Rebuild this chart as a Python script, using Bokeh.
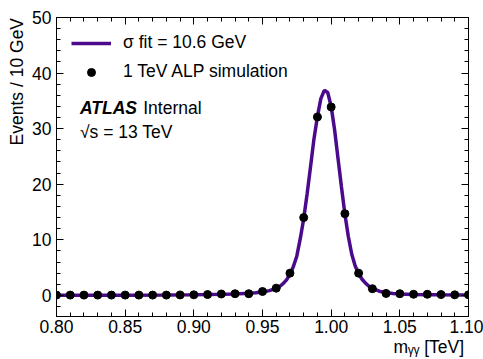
import math
from bokeh.plotting import figure
from bokeh.models import (Range1d, LinearAxis, SingleIntervalTicker, NumeralTickFormatter,
                          CustomJSTickFormatter, Label, Legend, LegendItem)
from bokeh.embed import file_html
from bokeh.resources import INLINE

# ---------------- data ----------------
mass_tev = [0.80, 0.81, 0.82, 0.83, 0.84, 0.85, 0.86, 0.87, 0.88, 0.89,
            0.90, 0.91, 0.92, 0.93, 0.94, 0.95, 0.96, 0.97, 0.98, 0.99,
            1.00, 1.01, 1.02, 1.03, 1.04, 1.05, 1.06, 1.07, 1.08, 1.09, 1.10]
events = [0.05, 0.05, 0.05, 0.05, 0.05, 0.05, 0.05, 0.05, 0.05, 0.08,
          0.10, 0.15, 0.25, 0.30, 0.30, 0.70, 1.30, 4.00, 14.0, 32.1,
          33.9, 14.7, 4.00, 1.20, 0.35, 0.30, 0.20, 0.20, 0.15, 0.10, 0.10]

fit_mass_tev = [0.80, 0.85, 0.88, 0.90, 0.91, 0.92, 0.93, 0.94, 0.945, 0.95,
                0.955, 0.96, 0.9625, 0.965, 0.9675, 0.97, 0.9725, 0.975, 0.9775, 0.98,
                0.9825, 0.985, 0.9875, 0.99, 0.9925, 0.995, 0.9975, 1.00, 1.0025, 1.005,
                1.0075, 1.01, 1.0125, 1.015, 1.0175, 1.02, 1.0225, 1.025, 1.0275, 1.03,
                1.035, 1.04, 1.045, 1.05, 1.06, 1.07, 1.08, 1.09, 1.10]
fit_events = [0.02, 0.04, 0.07, 0.10, 0.14, 0.20, 0.27, 0.38, 0.47, 0.60,
              0.85, 1.25, 1.60, 2.10, 2.80, 3.80, 5.20, 7.10, 10.2, 13.8,
              18.3, 23.2, 28.2, 32.2, 35.4, 36.9, 36.5, 34.0, 29.8, 24.6,
              19.5, 14.6, 10.6, 7.40, 5.30, 3.90, 2.90, 2.20, 1.65, 1.25,
              0.75, 0.50, 0.35, 0.27, 0.18, 0.13, 0.10, 0.08, 0.06]

legend_labels = ["\u03c3 fit = 10.6 GeV", "1 TeV ALP simulation"]
x_title = "m\u1d67\u1d67 [TeV]"
y_title = "Events / 10 GeV"
atlas_texts = ["ATLAS", "Internal", "\u221as = 13 TeV"]

# ---------------- styling / layout ----------------
FONT = "Liberation Sans"
FS = "17.5px"
PURPLE = "#4b0a8c"
W, H = 483, 359
BL, BR, BT, BB = 56, 15, 17, 42
X0, X1 = 0.80, 1.10
Y0, Y1 = -3.8, 50.0

EM, EN, QU = "\u2003", "\u2002", "\u2005"   # spacing used to push centred titles to the axis end
X_PAD = EM * 19
Y_PAD = EM * 9 + EN + QU


def dx(px):
    return X0 + (px - BL) * (X1 - X0) / (W - BL - BR)


def dy(py):
    return Y1 - (py - BT) * (Y1 - Y0) / (H - BT - BB)


p = figure(width=W, height=H, x_range=Range1d(X0, X1), y_range=Range1d(Y0, Y1),
           output_backend="svg", toolbar_location=None,
           min_border_left=BL, min_border_right=BR, min_border_top=BT, min_border_bottom=BB)
p.background_fill_color = "white"
p.border_fill_color = "white"
p.outline_line_color = "black"
p.outline_line_width = 1
p.xgrid.visible = False
p.ygrid.visible = False


def style_axis(ax, ticker, show_labels, standoff=5):
    ax.ticker = ticker
    ax.axis_line_color = "black"
    ax.major_tick_line_color = "black"
    ax.minor_tick_line_color = "black"
    ax.major_tick_in = 7
    ax.major_tick_out = 0
    ax.minor_tick_in = 4
    ax.minor_tick_out = 0
    ax.major_label_standoff = standoff
    ax.axis_label_text_font = FONT
    ax.axis_label_text_font_size = FS
    ax.axis_label_text_font_style = "normal"
    ax.axis_label_text_color = "black"
    if show_labels:
        ax.major_label_text_font = FONT
        ax.major_label_text_font_size = FS
        ax.major_label_text_color = "black"
    else:
        ax.formatter = CustomJSTickFormatter(code="return ''")
        ax.major_label_text_font_size = "0px"
        ax.major_label_standoff = 0


xaxis = p.xaxis[0]
yaxis = p.yaxis[0]
style_axis(xaxis, SingleIntervalTicker(interval=0.05, num_minor_ticks=5), True, 3)
xaxis.formatter = NumeralTickFormatter(format="0.00")
style_axis(yaxis, SingleIntervalTicker(interval=10, num_minor_ticks=5), True, 5)
xaxis.axis_label = X_PAD + x_title
xaxis.axis_label_standoff = 1
yaxis.axis_label = Y_PAD + y_title
yaxis.axis_label_standoff = 2

top_axis = LinearAxis()
style_axis(top_axis, SingleIntervalTicker(interval=0.05, num_minor_ticks=5), False)
right_axis = LinearAxis()
style_axis(right_axis, SingleIntervalTicker(interval=10, num_minor_ticks=5), False)
p.add_layout(top_axis, "above")
p.add_layout(right_axis, "right")

# ---------------- glyphs ----------------
fit_r = p.line(fit_mass_tev, fit_events, line_color=PURPLE, line_width=3.5)
pts_r = p.scatter(mass_tev, events, size=8, fill_color="black", line_color="black")

legend = Legend(items=[LegendItem(label=legend_labels[0], renderers=[fit_r]),
                       LegendItem(label=legend_labels[1], renderers=[pts_r])],
                location="top_left", margin=15, padding=0, spacing=8,
                glyph_width=40, glyph_height=20, label_height=20, label_standoff=12,
                border_line_color=None, background_fill_alpha=0,
                label_text_font=FONT, label_text_font_size=FS, label_text_color="black")
p.add_layout(legend)

# ---------------- texts ----------------
common = dict(text_font=FONT, text_color="black", text_baseline="alphabetic")
p.add_layout(Label(x=dx(79.5), y=dy(107.5), text=atlas_texts[0], text_font_size=FS,
                   text_font_style="bold italic", **common))
p.add_layout(Label(x=dx(142.7), y=dy(107.5), text=atlas_texts[1], text_font_size=FS, **common))
p.add_layout(Label(x=dx(79.5), y=dy(131.5), text=atlas_texts[2], text_font_size=FS, **common))

open("out.html", "w").write(file_html(p, INLINE))
